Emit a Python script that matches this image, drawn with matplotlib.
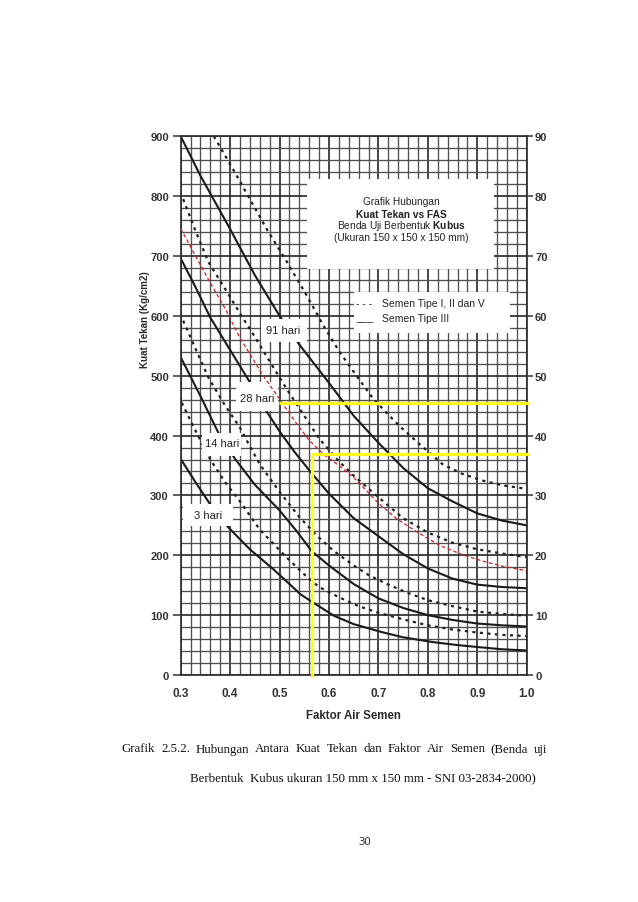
import numpy as np
import matplotlib
matplotlib.use("Agg")
from matplotlib import pyplot as plt
from matplotlib.patches import Rectangle

plt.rcParams['font.family'] = ['Liberation Sans', 'DejaVu Sans']
plt.rcParams['mathtext.fontset'] = 'custom'
plt.rcParams['mathtext.rm'] = 'Liberation Sans'
plt.rcParams['mathtext.bf'] = 'Liberation Sans:bold'

# --- data (faktor air semen vs kuat tekan, kg/cm2) ---
fas_91_s = [0.30, 0.34, 0.40, 0.45, 0.50, 0.54, 0.60, 0.65, 0.70, 0.75, 0.80, 0.85, 0.90, 0.95, 1.00]
kt_91_s = [900, 834, 745, 668, 600, 552, 488, 433, 388, 346, 312, 290, 270, 258, 250]

fas_91_d = [0.367, 0.406, 0.44, 0.474, 0.515, 0.555, 0.59, 0.622, 0.66, 0.69, 0.74, 0.78, 0.83, 0.87, 0.91, 0.95, 1.00]
kt_91_d = [900, 845, 795, 745, 690, 634, 582, 539, 495, 461, 418, 388, 352, 336, 325, 317, 311]

fas_28_s = [0.30, 0.33, 0.36, 0.40, 0.44, 0.47, 0.50, 0.53, 0.56, 0.60, 0.65, 0.70, 0.75, 0.80, 0.85, 0.90, 0.95, 1.00]
kt_28_s = [696, 648, 597, 543, 489, 445, 407, 373, 342, 303, 262, 232, 202, 178, 161, 151, 147, 145]

fas_28_d = [0.305, 0.33, 0.356, 0.39, 0.423, 0.45, 0.48, 0.515, 0.55, 0.58, 0.62, 0.65, 0.70, 0.75, 0.80, 0.85, 0.90, 0.95, 1.00]
kt_28_d = [795, 742, 690, 645, 600, 565, 524, 477, 433, 395, 357, 333, 297, 262, 238, 221, 210, 203, 197]

fas_14_s = [0.30, 0.34, 0.376, 0.41, 0.45, 0.50, 0.535, 0.565, 0.60, 0.65, 0.70, 0.75, 0.80, 0.85, 0.90, 0.95, 1.00]
kt_14_s = [531, 466, 405, 361, 318, 275, 240, 207, 183, 152, 128, 112, 100, 92, 86, 83, 81]

fas_14_d = [0.305, 0.33, 0.356, 0.39, 0.42, 0.44, 0.46, 0.50, 0.54, 0.575, 0.61, 0.65, 0.68, 0.72, 0.76, 0.80, 0.85, 0.90, 0.95, 1.00]
kt_14_d = [592, 545, 497, 450, 413, 382, 352, 306, 264, 233, 207, 183, 167, 151, 137, 125, 115, 106, 102, 99]

fas_3_s = [0.30, 0.33, 0.359, 0.396, 0.44, 0.487, 0.52, 0.542, 0.568, 0.61, 0.65, 0.71, 0.75, 0.81, 0.86, 0.91, 0.95, 1.00]
kt_3_s = [361, 322, 286, 247, 210, 177, 152, 135, 121, 99, 85, 71, 63, 55, 50, 46, 43, 41]

fas_3_d = [0.302, 0.33, 0.36, 0.39, 0.42, 0.46, 0.51, 0.55, 0.58, 0.62, 0.66, 0.70, 0.75, 0.80, 0.85, 0.90, 0.95, 1.00]
kt_3_d = [455, 408, 360, 322, 290, 243, 200, 168, 147, 130, 115, 104, 93, 83, 76, 71, 67, 65]

# hand drawn red curve
fas_red = [0.30, 0.33, 0.36, 0.39, 0.42, 0.467, 0.50, 0.53, 0.56, 0.59, 0.62, 0.65, 0.70, 0.737, 0.78, 0.825, 0.87, 0.912, 0.95, 1.00]
kt_red = [746, 700, 655, 612, 563, 500, 461, 425, 392, 368, 350, 330, 287, 261, 238, 216, 201, 190, 182, 174]

# yellow reading lines
yellow_fas = 0.565
yellow_kt = 370
yellow_fas_high = 0.498
yellow_kt_high = 454

# curve labels: text, x, y, box (x0, x1, y0, y1)
hari_text = ['91 hari', '28 hari', '14 hari', '3 hari']
hari_x = [0.508, 0.454, 0.383, 0.355]
hari_y = [577, 462, 387, 268]
hari_box = [(0.462, 0.555, 556, 594), (0.411, 0.497, 441, 490),
            (0.343, 0.422, 366, 404), (0.305, 0.405, 249, 285)]

x_ticks = [0.3, 0.4, 0.5, 0.6, 0.7, 0.8, 0.9, 1.0]
y_ticks = list(range(0, 901, 100))
y2_ticks = list(range(0, 91, 10))

W, H = 638, 903
fig = plt.figure(figsize=(W / 100, H / 100), dpi=100)
ax = fig.add_axes([180.7 / W, 1 - 676 / H, 346 / W, 538.7 / H])
ax.set_xlim(0.3, 1.0)
ax.set_ylim(0, 900)

ax.set_xticks(x_ticks)
ax.set_xticklabels(['%.1f' % v for v in x_ticks])
ax.set_xticks(np.arange(0.3, 1.001, 0.02), minor=True)
ax.set_yticks(y_ticks)
ax.set_yticks(np.arange(0, 901, 20), minor=True)
ax.set_axisbelow(True)
ax.grid(which='minor', color='#505050', lw=0.95)
ax.grid(which='major', color='#2e2e2e', lw=1.25)
ax.tick_params(axis='x', which='both', length=0, pad=9, labelsize=8.5, labelcolor='#333333')
ax.tick_params(axis='y', which='major', length=6, width=1.1, pad=2.5, labelsize=8, labelcolor='#333333', color='#333333')
ax.tick_params(axis='y', which='minor', length=0)
for lab in ax.get_xticklabels() + ax.get_yticklabels():
    lab.set_fontweight('bold')
for s in ax.spines.values():
    s.set_color('#2e2e2e')
    s.set_linewidth(1.25)

ax2 = ax.twinx()
ax2.set_ylim(0, 90)
ax2.set_yticks(y2_ticks)
ax2.tick_params(axis='y', length=4, width=1.1, pad=2, labelsize=8, labelcolor='#333333', color='#333333')
for lab in ax2.get_yticklabels():
    lab.set_fontweight('bold')
for s in ax2.spines.values():
    s.set_visible(False)

solid = dict(color='#1a1a1a', lw=1.5, zorder=2, solid_capstyle='butt')
dotted = dict(color='#222222', lw=1.6, ls=(0, (1.4, 2.0)), zorder=2)
ax.plot(fas_91_s, kt_91_s, **solid)
ax.plot(fas_28_s, kt_28_s, **solid)
ax.plot(fas_14_s, kt_14_s, **solid)
ax.plot(fas_3_s, kt_3_s, **solid)
ax.plot(fas_91_d, kt_91_d, **dotted)
ax.plot(fas_28_d, kt_28_d, **dotted)
ax.plot(fas_14_d, kt_14_d, **dotted)
ax.plot(fas_3_d, kt_3_d, **dotted)

# white boxes over the grid
for (x0, x1, y0, y1) in hari_box:
    ax.add_patch(Rectangle((x0, y0), x1 - x0, y1 - y0, fc='white', ec='none', zorder=3))
ax.add_patch(Rectangle((0.555, 678), 0.378, 150, fc='white', ec='none', zorder=3))
ax.add_patch(Rectangle((0.650, 572), 0.316, 68, fc='white', ec='none', zorder=3))

for t, x, y in zip(hari_text, hari_x, hari_y):
    ax.text(x, y, t, fontsize=8, ha='center', va='center', color='#222222', zorder=6)

# title box text
tx = 0.747
ax.text(tx, 792.5, 'Grafik Hubungan', fontsize=7.3, ha='center', va='center', color='#222222', zorder=6)
ax.text(tx, 771, 'Kuat Tekan vs FAS', fontsize=7.3, fontweight='bold', ha='center', va='center', color='#222222', zorder=6)
ax.text(tx, 751, r'Benda Uji Berbentuk $\bf{Kubus}$', fontsize=7.3, ha='center', va='center', color='#222222', zorder=6)
ax.text(tx, 731, '(Ukuran 150 x 150 x 150 mm)', fontsize=7.3, ha='center', va='center', color='#222222', zorder=6)

# legend text
ax.text(0.655, 621, '- - -', fontsize=7.5, ha='left', va='center', color='#222222', zorder=6)
ax.text(0.707, 621, 'Semen Tipe I, II dan V', fontsize=7.5, ha='left', va='center', color='#222222', zorder=6)
ax.text(0.655, 598, '___', fontsize=7.5, ha='left', va='center', color='#222222', zorder=6)
ax.text(0.707, 596, 'Semen Tipe III', fontsize=7.5, ha='left', va='center', color='#222222', zorder=6)

ax.plot(fas_red, kt_red, color='#cc2222', lw=0.9, ls=(0, (3, 2)), zorder=4)

yel = dict(color='#ffff1a', lw=2.3, zorder=5, clip_on=False, solid_capstyle='butt')
ax.plot([yellow_fas, yellow_fas], [-4, yellow_kt], **yel)
ax.plot([yellow_fas, 1.004], [yellow_kt, yellow_kt], **yel)
ax.plot([yellow_fas_high, 1.004], [yellow_kt_high, yellow_kt_high], **yel)

fig.text(145 / W, 1 - 320 / H, 'Kuat Tekan (Kg/cm2)', rotation=90, fontsize=7, fontweight='bold',
         ha='center', va='center', color='#2a2a2a')
fig.text(353 / W, 1 - 716.5 / H, 'Faktor Air Semen', fontsize=8.3, fontweight='bold',
         ha='center', va='center', color='#2a2a2a')

# caption, first line justified
serif = ['Liberation Serif', 'DejaVu Serif']
words = 'Grafik 2.5.2. Hubungan Antara Kuat Tekan dan Faktor Air Semen (Benda uji'.split()
renderer = fig.canvas.get_renderer()
objs = [fig.text(0, 1 - 752.5 / H, w, fontsize=9.3, family=serif, color='#111111') for w in words]
widths = [o.get_window_extent(renderer).width for o in objs]
x0, x1 = 122.0, 547.0
gap = (x1 - x0 - sum(widths)) / (len(words) - 1)
xp = x0
for o, w in zip(objs, widths):
    o.set_x(xp / W)
    xp += w + gap

fig.text(190 / W, 1 - 781 / H, 'Berbentuk  Kubus ukuran 150 mm x 150 mm - SNI 03-2834-2000)',
         fontsize=9.3, family=serif, color='#111111')
fig.text(365 / W, 1 - 845.5 / H, '30', fontsize=8, family=['Open Sans', 'DejaVu Sans'],
         ha='center', color='#222222')

fig.savefig('out.png', dpi=100)
